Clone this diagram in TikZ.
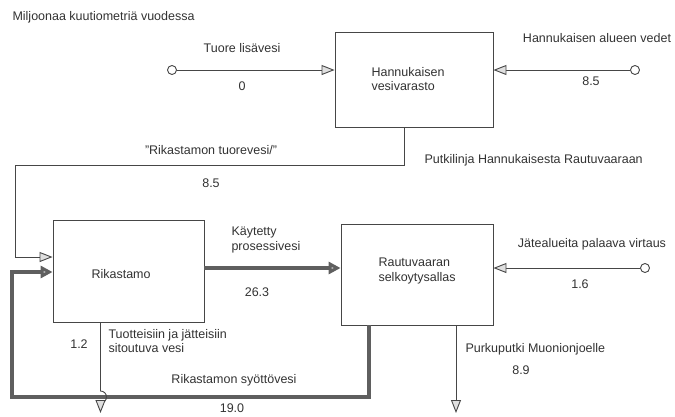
\documentclass[tikz,border=0pt]{standalone}
\usepackage{fontspec}
\setmainfont{Liberation Sans}
\usepackage{tikz}
\usetikzlibrary{arrows.meta,positioning,calc}
\usepackage{xcolor}
\definecolor{pipegray}{RGB}{70,70,70}
\definecolor{feedgray}{RGB}{95,95,95}
\definecolor{labelgray}{RGB}{50,50,50}

\begin{document}
\begin{tikzpicture}[x=1pt, y=-1pt,
    every node/.style={font=\fontsize{12.5}{14.5}\selectfont, text=labelgray},
    unit/.style={draw=pipegray, line width=0.9pt, fill=white, minimum width=#1, inner sep=0pt},
    inlet/.style={draw=pipegray, line width=0.9pt, circle, fill=white, minimum size=9pt, inner sep=0pt},
    flow/.style={draw=pipegray, line width=0.9pt, -{Triangle[length=13pt,width=10pt,fill=gray!25]}},
    bigflow/.style={draw=feedgray, line width=4.5pt, -{Triangle[length=12pt,width=12pt,fill=gray!55]}}]
    \useasboundingbox (0,0) rectangle (675,416);
    \node[anchor=west] (otsikko) at (9,17) {Miljoonaa kuutiometriä vuodessa};
    % units
    \node[unit=158pt, minimum height=95pt] (hannu) at (414,79.5) {};
    \node[unit=151pt, minimum height=102pt] (rikas) at (128.5,271) {};
    \node[unit=152pt, minimum height=101pt] (rautu) at (417,274.5) {};
    \node[anchor=west, align=left] at (368,79) {Hannukaisen\\vesivarasto};
    \node[anchor=west] at (88,274) {Rikastamo};
    \node[anchor=west, align=left] at (375,271) {Rautuvaaran\\selkoytysallas};
    % inlets
    \node[inlet] (tuore) at (172,70) {};
    \node[inlet] (alue) at (635,70) {};
    \node[inlet] (jate) at (645,268) {};
    \coordinate (tuotteetend) at (100.5,413);
    \coordinate (purkuend) at (456,413);
    \draw[flow] (tuore) -- (tuore -| hannu.west);
    \draw[flow] (alue) -- (alue -| hannu.east);
    \draw[flow] (jate) -- (jate -| rautu.east);
    \draw[flow] ([xshift=-10pt]hannu.south) |- (15,165) |- ([yshift=14pt]rikas.west);
    \draw[bigflow] ([xshift=-48pt]rautu.south) |- (12,397) |- ([yshift=-1pt]rikas.west);
    \draw[bigflow] ([yshift=3pt]rikas.east) -- ([yshift=3pt]rikas.east -| rautu.west);
    \draw[flow] ([xshift=39pt]rautu.south) -- (purkuend);
    \draw[flow] ([xshift=-28pt]rikas.south) -- (100.5,391)
        arc[start angle=90, end angle=-90, radius=6pt] -- (tuotteetend);
    % labels
    \node at (242,48) {Tuore lisävesi};
    \node at (242,86) {0};
    \node at (597,38) {Hannukaisen alueen vedet};
    \node at (591,81) {8.5};
    \node at (211,150) {"Rikastamon tuorevesi/"};
    \node at (211,183) {8.5};
    \node[anchor=west] at (421,160) {Putkilinja Hannukaisesta Rautuvaaraan};
    \node[anchor=west, align=left] at (228,240) {Käytetty\\prosessivesi};
    \node at (257,292) {26.3};
    \node at (592,244) {Jätealueita palaava virtaus};
    \node at (580,284) {1.6};
    \node[anchor=west, align=left] at (105,341) {Tuotteisiin ja jätteisiin\\sitoutuva vesi};
    \node at (79,344) {1.2};
    \node[anchor=west] at (462,349) {Purkuputki Muonionjoelle};
    \node at (521,370) {8.9};
    \node at (234,380) {Rikastamon syöttövesi};
    \node at (232,408) {19.0};
\end{tikzpicture}
\end{document}
